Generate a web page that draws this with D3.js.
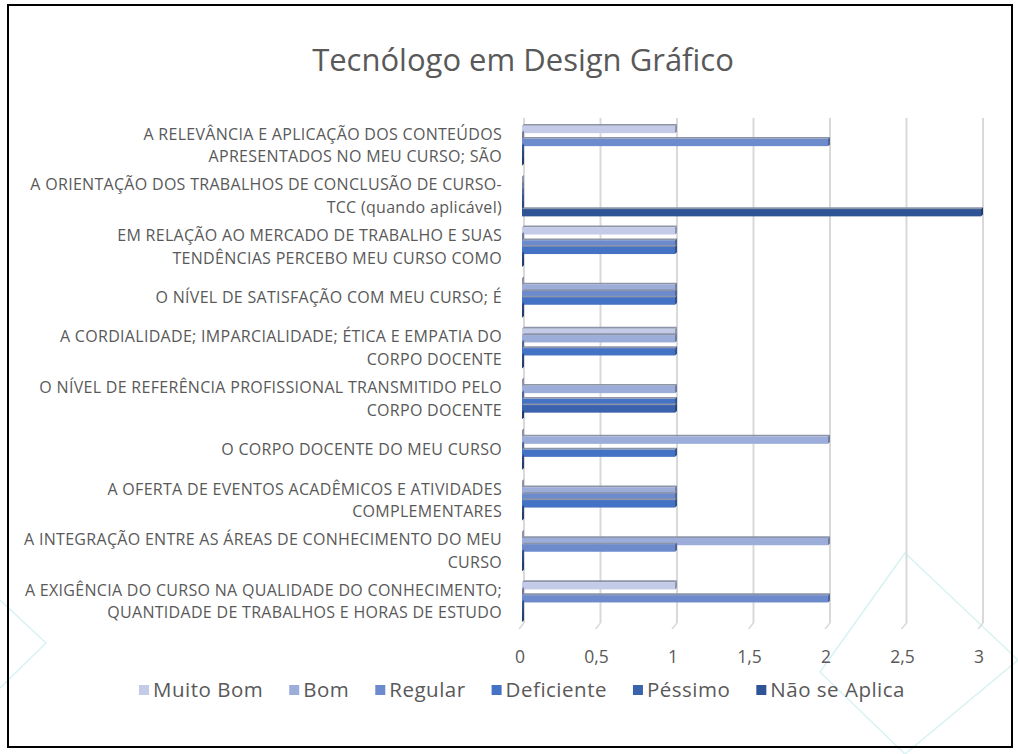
<!DOCTYPE html>
<html>
<head>
<meta charset="utf-8">
<script src="https://cdn.jsdelivr.net/npm/d3@7/dist/d3.min.js"></script>
<style>
  html, body { margin: 0; padding: 0; background: #ffffff; }
  svg { display: block; }
  text { font-family: "Open Sans", "Noto Sans", sans-serif; fill: #595959; }
</style>
</head>
<body>
<svg id="chart" width="1018" height="754"></svg>
<script>
// Survey questions, listed top to bottom; "|" marks the line break in the label
const categories = [
  "A RELEVÂNCIA E APLICAÇÃO DOS CONTEÚDOS|APRESENTADOS NO MEU CURSO; SÃO",
  "A ORIENTAÇÃO DOS TRABALHOS DE CONCLUSÃO DE CURSO-|TCC (quando aplicável)",
  "EM RELAÇÃO AO MERCADO DE TRABALHO E SUAS|TENDÊNCIAS PERCEBO MEU CURSO COMO",
  "O NÍVEL DE SATISFAÇÃO COM MEU CURSO; É",
  "A CORDIALIDADE; IMPARCIALIDADE; ÉTICA E EMPATIA DO|CORPO DOCENTE",
  "O NÍVEL DE REFERÊNCIA PROFISSIONAL TRANSMITIDO PELO|CORPO DOCENTE",
  "O CORPO DOCENTE DO MEU CURSO",
  "A OFERTA DE EVENTOS ACADÊMICOS E ATIVIDADES|COMPLEMENTARES",
  "A INTEGRAÇÃO ENTRE AS ÁREAS DE CONHECIMENTO DO MEU|CURSO",
  "A EXIGÊNCIA DO CURSO NA QUALIDADE DO CONHECIMENTO;|QUANTIDADE DE TRABALHOS E HORAS DE ESTUDO"
];

// Answer counts per rating, in the same order as the categories
const muitoBom    = [1, 0, 1, 0, 1, 0, 0, 0, 0, 1];
const bom         = [0, 0, 0, 1, 1, 1, 2, 1, 2, 0];
const regular     = [2, 0, 1, 1, 0, 0, 0, 1, 1, 2];
const deficiente  = [0, 0, 1, 1, 1, 1, 1, 1, 0, 0];
const pessimo     = [0, 0, 0, 0, 0, 1, 0, 0, 0, 0];
const naoSeAplica = [0, 3, 0, 0, 0, 0, 0, 0, 0, 0];

const seriesNames = ["Muito Bom", "Bom", "Regular", "Deficiente", "Péssimo", "Não se Aplica"];
const seriesValues = [muitoBom, bom, regular, deficiente, pessimo, naoSeAplica];
const seriesColors = ["#c3cbe8", "#9dadda", "#6d8bcc", "#4472c4", "#3b62ad", "#2f5496"];

const xTicks = [0, 0.5, 1, 1.5, 2, 2.5, 3];
const tickLabels = ["0", "0,5", "1", "1,5", "2", "2,5", "3"];
const title = "Tecnólogo em Design Gráfico";

const svg = d3.select("#chart");

// decorative faint diamonds in the background
const deco = svg.append("g").attr("fill", "none").attr("stroke", "#d8f2f2").attr("stroke-width", 1.5);
deco.append("path").attr("d", "M0,600 L46,643 L0,688");
deco.append("path").attr("d", "M905,553 L1018,660 L905,754 L820,672 Z");

// outer frame
svg.append("rect")
  .attr("x", 8).attr("y", 5).attr("width", 1004).attr("height", 742)
  .attr("fill", "none").attr("stroke", "#000").attr("stroke-width", 2);

// title
svg.append("text")
  .attr("x", 523).attr("y", 71)
  .attr("text-anchor", "middle")
  .style("font-size", "31px")
  .text(title);

// scales
const x = d3.scaleLinear().domain([0, 3]).range([522, 981]);
const y = d3.scaleBand().domain(d3.range(categories.length))
  .range([120, 627]).paddingInner(0.23).paddingOuter(0.115);
const ys = d3.scaleBand().domain(d3.range(seriesNames.length)).range([0, y.bandwidth()]);

// back-wall gridlines with a small slanted foot
const grid = svg.append("g");
xTicks.forEach(t => {
  const gx = x(t) + 2;
  grid.append("line")
    .attr("x1", gx).attr("x2", gx).attr("y1", 118).attr("y2", 623)
    .attr("stroke", "#d9d9d9").attr("stroke-width", 2);
  grid.append("line")
    .attr("x1", gx).attr("x2", gx - 5).attr("y1", 623).attr("y2", 629)
    .attr("stroke", "#d9d9d9").attr("stroke-width", 1.5);
});

// tick labels
svg.append("g").selectAll("text").data(xTicks).join("text")
  .attr("x", d => x(d) - 2).attr("y", 663)
  .attr("text-anchor", "middle")
  .style("font-size", "17.5px")
  .text((d, i) => tickLabels[i]);

// category labels, right aligned next to the plot
const labels = svg.append("g");
categories.forEach((c, i) => {
  const lines = c.split("|");
  const cy = y(i) + y.bandwidth() / 2;
  const lh = 22.5;
  const t = labels.append("text")
    .attr("text-anchor", "end")
    .style("font-size", "16px")
    .style("letter-spacing", "0.3px");
  lines.forEach((ln, k) => {
    t.append("tspan")
      .attr("x", 502)
      .attr("y", cy + (k - (lines.length - 1) / 2) * lh + 5.5)
      .text(ln);
  });
});

// 3D-look bars: front face, top face and end cap
const dx = 2, dy = -1.8;
const bars = svg.append("g");
categories.forEach((c, i) => {
  seriesValues.forEach((vals, s) => {
    const v = vals[i];
    const col = d3.color(seriesColors[s]);
    const top = y(i) + ys(s);
    const h = ys.bandwidth() + 0.8;
    const x0 = x(0), x1 = x(v);
    const g = bars.append("g");
    if (v > 0) {
      g.append("path")
        .attr("d", `M${x0},${top} L${x0 + dx},${top + dy} L${x1 + dx},${top + dy} L${x1},${top} Z`)
        .attr("fill", "#8c95a8");
      g.append("rect")
        .attr("x", x0).attr("y", top).attr("width", x1 - x0).attr("height", h)
        .attr("fill", col.formatHex());
    }
    g.append("path")
      .attr("d", `M${x1},${top} L${x1 + dx},${top + dy} L${x1 + dx},${top + h + dy} L${x1},${top + h} Z`)
      .attr("fill", col.darker(0.9).formatHex());
  });
});

// legend
const legend = svg.append("g");
const items = [];
seriesNames.forEach((n, s) => {
  const g = legend.append("g");
  g.append("rect").attr("x", 0).attr("y", -5).attr("width", 10).attr("height", 10)
    .attr("fill", seriesColors[s]);
  const t = g.append("text").attr("x", 14).attr("y", 7)
    .style("font-size", "20.5px").style("letter-spacing", "0.5px").text(n);
  const w = 14 + t.node().getComputedTextLength();
  items.push({ g, w });
});
const gap = 26;
const total = d3.sum(items, d => d.w) + gap * (items.length - 1);
let lx = 522 - total / 2;
items.forEach(it => {
  it.g.attr("transform", `translate(${lx},690)`);
  lx += it.w + gap;
});
</script>
</body>
</html>
